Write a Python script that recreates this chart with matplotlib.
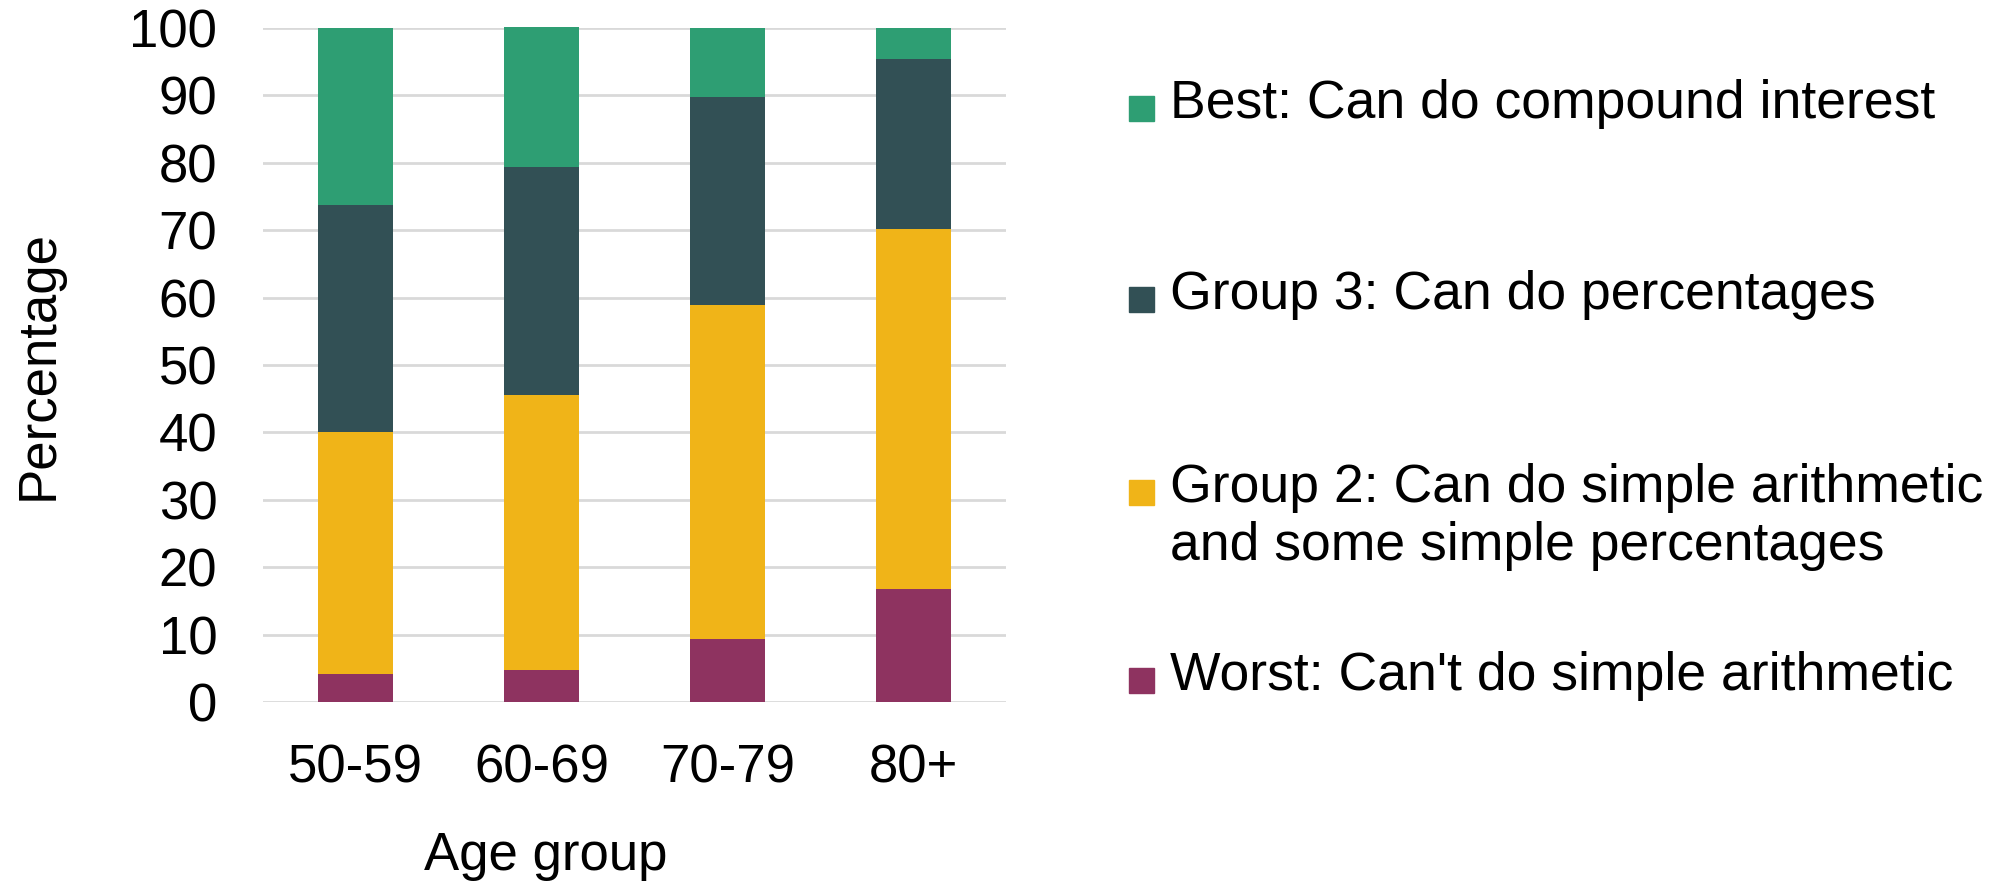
import numpy as np
import matplotlib
matplotlib.use("Agg")
from matplotlib import pyplot as plt
from matplotlib.patches import Rectangle

plt.rcParams['font.family'] = ['Liberation Sans', 'DejaVu Sans']

age_groups = ['50-59', '60-69', '70-79', '80+']

# stacked from the bottom up
worst = [4.2, 4.8, 9.3, 16.7]
group2 = [35.9, 40.8, 49.6, 53.5]
group3 = [33.6, 33.8, 30.8, 25.2]
best = [26.3, 20.8, 10.3, 4.6]

series_labels = [
    "Worst: Can't do simple arithmetic",
    "Group 2: Can do simple arithmetic\nand some simple percentages",
    "Group 3: Can do percentages",
    "Best: Can do compound interest",
]
series_colors = ['#8E3360', '#F0B418', '#325055', '#2E9E73']
y_ticks = list(range(0, 101, 10))

W, H = 1995, 884
fig = plt.figure(figsize=(W / 100, H / 100), dpi=100)
ax = fig.add_axes([263 / W, 1 - 702 / H, (1006 - 263) / W, (702 - 28) / H])

x = np.arange(len(age_groups))
bottom = np.zeros(len(age_groups))
for values, color in zip([worst, group2, group3, best], series_colors):
    ax.bar(x, values, width=0.405, bottom=bottom, color=color, zorder=3,
           clip_on=False)
    bottom += np.array(values)

ax.set_xlim(-0.5, len(age_groups) - 0.5)
ax.set_ylim(0, 100)
ax.set_yticks(y_ticks)
ax.set_xticks(x)
ax.set_xticklabels(age_groups)
ax.yaxis.grid(True, color='#d9d9d9', linewidth=2, zorder=0)
ax.set_axisbelow(True)
for spine in ax.spines.values():
    spine.set_visible(False)
ax.tick_params(axis='both', length=0, labelsize=38, colors='black')
ax.tick_params(axis='y', pad=33)
ax.tick_params(axis='x', pad=30)

ax.set_ylabel('Percentage', fontsize=38)
ax.yaxis.set_label_coords(-0.268, 0.5)
ax.set_xlabel('Age group', fontsize=38)
ax.xaxis.set_label_coords(0.38, -0.192)

# legend drawn by hand, top entry first, swatch level with the first line
legend_rows = [108, 299, 492, 680]
for label, color, row in zip(series_labels[::-1], series_colors[::-1],
                             legend_rows):
    fig.patches.append(Rectangle((1129 / W, 1 - (row + 13) / H), 25 / W,
                                 25 / H, transform=fig.transFigure,
                                 color=color))
    fig.text(1170 / W, 1 - (row - 29) / H, label, fontsize=38.5, va='top',
             ha='left', linespacing=1.2)

fig.savefig('out.png', dpi=100)
